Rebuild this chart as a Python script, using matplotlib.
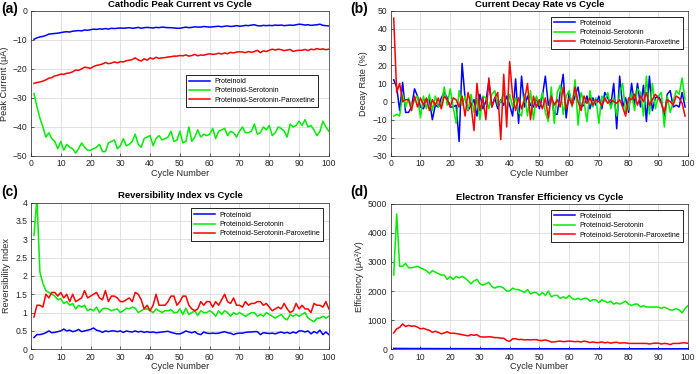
import matplotlib
matplotlib.use("Agg")
import matplotlib.pyplot as plt
import numpy as np

plt.rcParams["font.family"] = ["Liberation Sans", "DejaVu Sans"]

series_names = ["Proteinoid", "Proteinoid-Serotonin", "Proteinoid-Serotonin-Paroxetine"]
colors = ["#0000FF", "#00EE00", "#FF0000"]

cycles = np.arange(1, 101)
cycles_decay = np.arange(1, 100)

# (a) cathodic peak current (uA)
peak_p = [-9.8, -9.3, -9.0, -8.8, -8.5, -8.0, -7.9, -7.8, -7.7, -7.5,
          -7.3, -7.2, -7.3, -7.0, -6.9, -6.8, -6.9, -6.6, -6.7, -6.5,
          -6.3, -6.4, -6.2, -6.3, -6.1, -6.3, -6.0, -6.1, -6.0, -5.9,
          -6.0, -5.9, -5.8, -6.0, -5.9, -5.7, -6.0, -5.8, -5.7, -5.8,
          -5.9, -5.7, -5.8, -5.6, -5.7, -5.8, -5.8, -5.9, -6.0, -6.0,
          -5.8, -5.6, -5.8, -5.7, -5.5, -5.6, -5.6, -5.4, -5.5, -5.6,
          -5.5, -5.4, -5.3, -5.5, -5.3, -5.2, -5.4, -5.3, -5.1, -5.3,
          -5.2, -5.0, -5.1, -4.9, -4.8, -5.1, -5.2, -5.0, -5.1, -5.0,
          -5.1, -4.9, -5.0, -4.9, -5.1, -5.0, -4.9, -5.0, -4.8, -4.6,
          -4.7, -4.9, -4.8, -5.0, -4.9, -4.8, -4.6, -5.0, -5.1, -5.2]
peak_ps = [-28.5, -33.0, -37.0, -40.0, -43.5, -42.0, -44.0, -45.0, -47.5, -45.0,
           -48.0, -46.0, -47.0, -47.5, -49.0, -47.5, -45.5, -47.0, -48.0, -48.0,
           -47.5, -47.0, -46.0, -48.5, -48.5, -45.5, -45.0, -44.5, -47.5, -46.5,
           -44.0, -46.5, -46.0, -45.0, -42.5, -46.0, -47.0, -44.0, -43.5, -43.0,
           -46.5, -44.0, -43.0, -44.5, -44.0, -43.5, -41.5, -45.0, -44.5, -41.5,
           -45.5, -45.0, -40.0, -45.0, -43.5, -41.0, -43.5, -42.5, -43.0, -42.5,
           -40.5, -44.0, -41.5, -41.0, -40.5, -43.0, -41.5, -42.0, -43.5, -41.5,
           -40.0, -42.0, -42.0, -41.5, -39.0, -42.5, -42.0, -40.0, -41.0, -39.5,
           -43.0, -42.0, -40.0, -40.5, -41.5, -43.5, -39.0, -40.0, -39.5, -38.0,
           -39.5, -37.5, -40.0, -39.5, -41.0, -43.0, -41.5, -38.0, -40.0, -41.5]
peak_psp = [-25.0, -24.7, -24.5, -24.2, -23.8, -23.2, -23.0, -22.4, -22.2, -21.8,
            -21.9, -21.5, -21.4, -21.0, -20.4, -20.5, -20.0, -19.4, -19.6, -19.8,
            -19.2, -18.8, -18.6, -18.3, -17.8, -18.2, -18.0, -17.6, -17.9, -17.5,
            -17.6, -17.2, -17.0, -16.8, -16.2, -16.9, -17.3, -16.5, -17.0, -16.2,
            -16.6, -16.0, -16.4, -16.2, -16.1, -15.9, -15.8, -15.6, -15.6, -15.4,
            -15.5, -15.2, -15.6, -15.4, -15.0, -15.5, -15.2, -15.3, -15.0, -14.8,
            -15.0, -14.9, -14.6, -14.9, -14.5, -14.8, -14.3, -14.5, -14.2, -14.1,
            -14.2, -14.4, -14.0, -14.3, -14.0, -13.6, -14.4, -13.8, -14.0, -13.6,
            -13.2, -13.5, -13.2, -13.4, -13.7, -13.5, -13.3, -14.0, -13.7, -13.6,
            -13.6, -13.3, -13.7, -13.2, -13.4, -13.0, -13.3, -13.1, -13.4, -13.2]

# (b) current decay rate (%)
decay_p = [12, 8, -5, 10.5, -6, -6, -3, 7, 3, -3,
           -4, 1, 1, -10, -2, -3, 2, 5, 2, -3,
           -3, -2, -22, 21, 2, -5, -2, 1, -8, 4,
           -4, 0, 11, -3, 2, -4, 1, -2, 3, -2,
           -8, 12.5, -12, 14, -3, 3, -2, -3, 2, -4,
           3, 14, -2, 3, -7, -7, 5, 15, -9, 5,
           -2, 3, 8, -3, -2, 3, -4, 2, -2, 3,
           -4, 5, 2, -2, 10, -15, 14, -3, 2, -6,
           10, -2, 10, -3, 9, -11, 14, -5, 2, 3,
           0, -8, 4, 6, -3, -2, -3, 5, -3]
decay_ps = [-8, -7, -8, 4, -3, 2, -3, 1, 3, -9,
            3, -4, 4, -5, 3, -3, -2, 8, -2, 7,
            -3, -12, 6, -2, 3, -5, 4, -6, 2, -10,
            3, 2, -4, 4, 6, -2, 0, 5, -6, 4,
            -3, 2, -6, -8, 4, -8, 6, -10, 3, -2,
            5, -6, -11, 8, -12, 5, 9, -7, 3, 6,
            -3, 12, -13, 5, 0, -11, 6, -3, 2, -12,
            3, 0, 5, -4, 2, -8, 5, 10, -6, -4,
            5, -5, 7, 5, -8, 14, -7, 10, -4, 3,
            5, -14, 3, -6, 0, 6, 4, 13, 1]
decay_psp = [46, 5, 10, 0, 1, 1, -5, 3, -3, 2,
             -2, 2, -5, 1, -2, 2, -4, 3, 1, -3,
             2, 1, -3, 3, -8, 5, -2, -16, 10, -5,
             2, -10, 13, -3, 2, 5, -21, 15, -14, 22,
             3, -5, 2, -4, 1, 10, -10, 3, -3, 1,
             -4, 2, -9, 3, -2, 1, -3, 8, -4, 2,
             -2, 8, 0, -5, 3, -1, 2, -2, 1, 0,
             -2, 2, -1, 1, 0, -1, 1, -3, -8, 2,
             1, 4, -2, 3, 0, 5, -2, 1, 4, 2,
             -1, -6, 1, 0, -2, 3, 2, -1, -8]

# (c) reversibility index
rev_p = [0.32, 0.40, 0.40, 0.42, 0.45, 0.50, 0.45, 0.46, 0.48, 0.50,
         0.55, 0.50, 0.52, 0.48, 0.50, 0.54, 0.48, 0.50, 0.52, 0.54,
         0.58, 0.52, 0.50, 0.46, 0.50, 0.48, 0.50, 0.50, 0.48, 0.50,
         0.46, 0.50, 0.48, 0.47, 0.50, 0.47, 0.49, 0.46, 0.48, 0.46,
         0.47, 0.45, 0.46, 0.47, 0.48, 0.49, 0.46, 0.44, 0.42, 0.42,
         0.45, 0.50, 0.47, 0.45, 0.48, 0.42, 0.40, 0.47, 0.44, 0.43,
         0.44, 0.43, 0.44, 0.46, 0.48, 0.45, 0.44, 0.40, 0.43, 0.44,
         0.44, 0.46, 0.47, 0.47, 0.48, 0.48, 0.40, 0.45, 0.44, 0.43,
         0.44, 0.42, 0.45, 0.47, 0.44, 0.46, 0.43, 0.47, 0.44, 0.50,
         0.50, 0.47, 0.50, 0.42, 0.48, 0.44, 0.52, 0.40, 0.47, 0.40]
rev_ps = [3.10, 4.10, 2.10, 1.80, 1.60, 1.55, 1.50, 1.45, 1.35, 1.38,
          1.25, 1.30, 1.20, 1.25, 1.10, 1.20, 1.15, 1.20, 1.05, 1.10,
          1.05, 1.15, 1.00, 1.10, 1.12, 1.10, 1.05, 1.08, 1.10, 1.00,
          1.05, 1.12, 1.10, 1.15, 1.12, 1.00, 1.05, 1.10, 1.10, 1.05,
          1.00, 1.10, 1.05, 1.00, 1.05, 1.05, 1.08, 1.00, 1.00, 1.10,
          0.95, 1.12, 0.95, 1.00, 1.05, 0.92, 1.05, 1.00, 1.00, 1.05,
          1.00, 0.90, 1.05, 0.95, 1.05, 1.00, 0.90, 1.00, 0.95, 1.00,
          0.95, 0.90, 0.95, 1.00, 1.00, 0.90, 0.95, 0.90, 1.00, 0.95,
          0.90, 0.85, 0.90, 0.95, 0.85, 0.80, 0.95, 0.90, 0.95, 0.90,
          0.95, 1.00, 0.85, 0.80, 0.75, 0.85, 0.85, 0.90, 0.85, 0.90]
rev_psp = [0.88, 1.20, 1.20, 1.15, 1.50, 1.40, 1.55, 1.55, 1.45, 1.55,
           1.40, 1.50, 1.30, 1.50, 1.30, 1.35, 1.40, 1.60, 1.40, 1.45,
           1.50, 1.55, 1.40, 1.35, 1.60, 1.30, 1.45, 1.45, 1.40, 1.30,
           1.30, 1.35, 1.40, 1.30, 1.55, 1.50, 1.35, 1.10, 1.20, 1.05,
           1.20, 1.50, 1.20, 1.20, 1.20, 1.30, 1.45, 1.45, 1.20, 1.30,
           1.45, 1.45, 1.20, 1.10, 1.05, 1.10, 1.30, 1.20, 1.30, 1.30,
           1.15, 1.30, 1.20, 1.35, 1.50, 1.30, 1.25, 1.40, 1.20, 1.20,
           1.15, 1.30, 1.20, 1.25, 1.25, 1.30, 1.30, 1.20, 1.25, 1.15,
           1.05, 1.10, 1.15, 1.10, 1.25, 1.10, 1.00, 1.05, 1.25, 1.10,
           1.20, 1.10, 1.10, 1.00, 1.25, 1.20, 1.20, 1.15, 1.30, 1.10]

# (d) electron transfer efficiency (uA^2/V)
eff_p = [30, 28, 27, 26, 26, 25, 25, 24, 24, 24,
         23, 23, 23, 22, 22, 22, 22, 21, 21, 21,
         21, 21, 20, 20, 20, 20, 20, 20, 19, 19,
         19, 19, 19, 19, 19, 19, 18, 18, 18, 18,
         18, 18, 18, 18, 18, 18, 18, 18, 18, 18,
         18, 18, 17, 17, 17, 17, 17, 17, 17, 17,
         17, 17, 17, 17, 17, 17, 16, 16, 16, 16,
         16, 16, 16, 16, 16, 16, 16, 16, 16, 16,
         16, 16, 16, 16, 16, 16, 16, 15, 15, 15,
         15, 15, 15, 15, 15, 15, 15, 15, 15, 15]
eff_ps = [2550, 4650, 2850, 2850, 2950, 2800, 2800, 2820, 2850, 2800,
          2750, 2700, 2600, 2700, 2650, 2600, 2550, 2550, 2400, 2500,
          2400, 2500, 2450, 2500, 2450, 2350, 2250, 2350, 2400, 2250,
          2200, 2250, 2300, 2150, 2100, 2150, 2150, 2100, 2000, 2000,
          2100, 2050, 2050, 2000, 1950, 2050, 1900, 1950, 1950, 1850,
          1950, 1850, 2000, 1800, 1850, 1850, 1750, 1800, 1750, 1850,
          1750, 1700, 1750, 1700, 1750, 1750, 1650, 1700, 1700, 1600,
          1700, 1650, 1600, 1650, 1550, 1600, 1550, 1600, 1650, 1550,
          1500, 1550, 1550, 1450, 1500, 1450, 1450, 1450, 1450, 1450,
          1400, 1450, 1400, 1350, 1350, 1400, 1350, 1250, 1400, 1500]
eff_psp = [560, 700, 750, 870, 780, 820, 790, 800, 760, 700,
           720, 680, 650, 580, 620, 580, 530, 560, 600, 550,
           550, 540, 520, 500, 480, 460, 500, 480, 500, 430,
           420, 420, 430, 420, 400, 400, 380, 380, 300, 270,
           360, 360, 330, 340, 320, 330, 320, 330, 330, 300,
           300, 320, 290, 250, 250, 270, 280, 260, 270, 280,
           270, 260, 270, 250, 280, 260, 230, 250, 230, 230,
           250, 220, 240, 210, 230, 240, 210, 220, 220, 200,
           200, 200, 200, 200, 200, 200, 180, 200, 210, 210,
           180, 200, 190, 160, 200, 200, 200, 220, 220, 200]


def style_axes(ax, title, ylabel, ylim, yticks, xlim=(0, 100)):
    ax.set_xlim(*xlim)
    ax.set_ylim(*ylim)
    ax.set_xticks(np.arange(0, 101, 10))
    ax.set_yticks(yticks)
    ax.grid(True, color="#dcdcdc", linewidth=0.6)
    ax.set_axisbelow(True)
    ax.tick_params(direction="in", length=2.5, width=0.5, labelsize=6.2,
                   colors="#262626", pad=2.5)
    for sp in ax.spines.values():
        sp.set_color("#262626")
        sp.set_linewidth(0.5)
    ax.set_title(title, fontsize=6.8, fontweight="bold", pad=3)
    ax.set_xlabel("Cycle Number", fontsize=6.6, color="#262626", labelpad=0.5)
    ax.set_ylabel(ylabel, fontsize=6.6, color="#262626", labelpad=3)


def add_legend(ax, anchor):
    leg = ax.legend(series_names, loc="upper right", bbox_to_anchor=anchor,
                    fontsize=5, frameon=True, fancybox=False, edgecolor="black",
                    framealpha=1, handlelength=3.0, borderpad=0.45,
                    labelspacing=0.35, handletextpad=0.6, borderaxespad=0)
    leg.get_frame().set_linewidth(0.6)


fig = plt.figure(figsize=(6.96, 3.74), dpi=100)

ax_a = fig.add_axes([0.0445, 0.583, 0.428, 0.388])
ax_b = fig.add_axes([0.5614, 0.583, 0.4272, 0.388])
ax_c = fig.add_axes([0.0445, 0.0662, 0.428, 0.392])
ax_d = fig.add_axes([0.5614, 0.0662, 0.4272, 0.3891])

for vals, c in zip([peak_p, peak_ps, peak_psp], colors):
    ax_a.plot(cycles, vals, color=c, linewidth=1.1)
style_axes(ax_a, "Cathodic Peak Current vs Cycle", "Peak Current (μA)",
           (-50, 0), np.arange(-50, 1, 10))
add_legend(ax_a, (0.963, 0.559))

for vals, c in zip([decay_p, decay_ps, decay_psp], colors):
    ax_b.plot(cycles_decay, vals, color=c, linewidth=1.1)
style_axes(ax_b, "Current Decay Rate vs Cycle", "Decay Rate (%)",
           (-30, 50), np.arange(-30, 51, 10))
add_legend(ax_b, (0.983, 0.96))

for vals, c in zip([rev_p, rev_ps, rev_psp], colors):
    ax_c.plot(cycles, vals, color=c, linewidth=1.1)
style_axes(ax_c, "Reversibility Index vs Cycle", "Reversibility Index",
           (0, 4), np.arange(0, 4.01, 0.5))
ax_c.set_yticklabels(["0", "0.5", "1", "1.5", "2", "2.5", "3", "3.5", "4"])
add_legend(ax_c, (0.98, 0.96))

for vals, c in zip([eff_p, eff_ps, eff_psp], colors):
    ax_d.plot(cycles, vals, color=c, linewidth=1.1)
style_axes(ax_d, "Electron Transfer Efficiency vs Cycle", "Efficiency (μA²/V)",
           (0, 5000), np.arange(0, 5001, 1000))
add_legend(ax_d, (0.983, 0.96))

for lbl, x, y in [("(a)", 0.002, 0.995), ("(b)", 0.503, 0.995),
                  ("(c)", 0.002, 0.505), ("(d)", 0.503, 0.505)]:
    fig.text(x, y, lbl, fontsize=10, fontweight="bold", va="top", ha="left")

fig.savefig("out.png", dpi=100)
